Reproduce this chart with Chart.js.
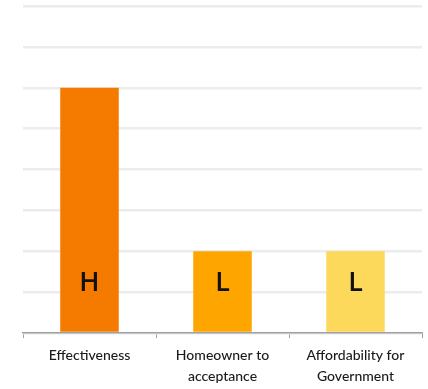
<!DOCTYPE html>
<html>
<head>
<meta charset="utf-8">
<script src="https://cdn.jsdelivr.net/npm/chart.js@4.4.0/dist/chart.umd.min.js"></script>
<style>
    html, body { margin: 0; padding: 0; background: #fff; }
    #wrap { width: 428px; height: 389px; }
</style>
</head>
<body>
<div id="wrap"><canvas id="chart"></canvas></div>
<script>
// ============================================================
// Data
// ============================================================

const CATEGORIES = [
    ['Effectiveness'],
    ['Homeowner to', 'acceptance'],
    ['Affordability for', 'Government']
];
const SCORES = [6, 2, 2];
const RATINGS = ['H', 'L', 'L'];
const BAR_COLORS = ['#f57a00', '#ffa500', '#fdd95b'];
const Y_MIN = 0;
const Y_MAX = 8;
const Y_STEP = 1;
const RATING_LEVEL = 1.22;   // value height where the H/L letter sits

// ============================================================
// Letter inside each bar
// ============================================================

const ratingPlugin = {
    id: 'ratings',
    afterDatasetsDraw(chart) {
        const ctx = chart.ctx;
        const meta = chart.getDatasetMeta(0);
        const y = chart.scales.y.getPixelForValue(RATING_LEVEL);
        ctx.save();
        ctx.font = '600 27px "Open Sans", Lato, sans-serif';
        ctx.fillStyle = '#111';
        ctx.textAlign = 'center';
        ctx.textBaseline = 'middle';
        meta.data.forEach(function(bar, i) {
            ctx.fillText(RATINGS[i], bar.x, y);
        });
        ctx.restore();
    }
};

new Chart(document.getElementById('chart'), {
    type: 'bar',
    data: {
        labels: CATEGORIES,
        datasets: [{
            data: SCORES,
            backgroundColor: BAR_COLORS,
            borderWidth: 0,
            barPercentage: 0.44,
            categoryPercentage: 1
        }]
    },
    options: {
        responsive: true,
        maintainAspectRatio: false,
        animation: false,
        layout: { padding: { left: 23, right: 6, top: 6, bottom: -5 } },
        plugins: {
            legend: { display: false },
            tooltip: { enabled: false }
        },
        scales: {
            x: {
                grid: {
                    drawOnChartArea: false,
                    color: '#a0a0a0',
                    tickLength: 5,
                    lineWidth: 1
                },
                border: { color: '#a0a0a0', width: 1.5 },
                ticks: {
                    color: '#1a1a1a',
                    padding: 7,
                    maxRotation: 0,
                    font: { family: 'Lato, "Open Sans", sans-serif', size: 14, weight: '500', lineHeight: 1.5 }
                }
            },
            y: {
                min: Y_MIN,
                max: Y_MAX,
                ticks: { stepSize: Y_STEP, display: false },
                grid: { color: '#ececec', lineWidth: 2.5, drawTicks: false },
                border: { display: false }
            }
        }
    },
    plugins: [ratingPlugin]
});
</script>
</body>
</html>
